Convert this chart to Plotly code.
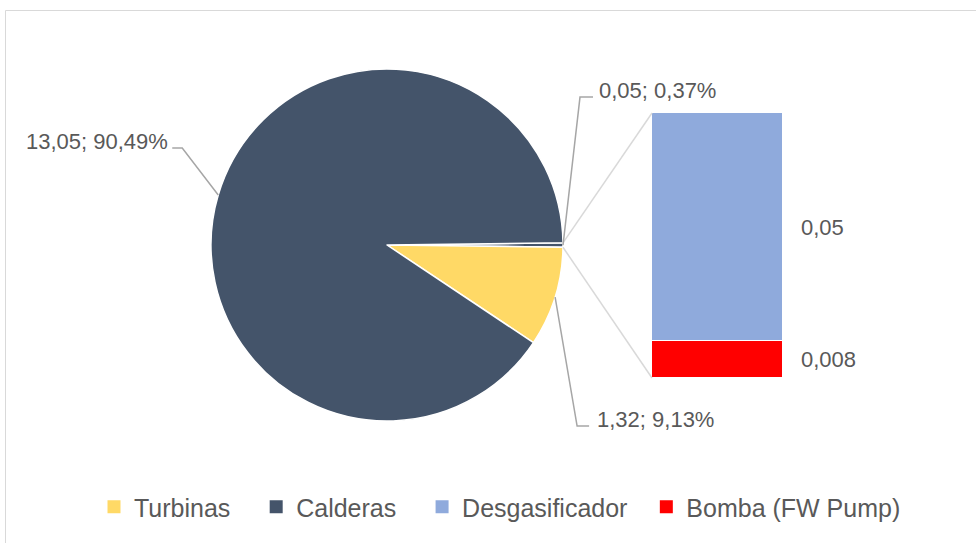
import math
import plotly.graph_objects as go

# ---------------- data ----------------
pie_labels = ["Otros", "Turbinas", "Calderas"]
pie_values = [0.058, 1.32, 13.05]
pie_colors = ["#44546A", "#FFD966", "#44546A"]
pie_text = ["0,05; 0,37%", "1,32; 9,13%", "13,05; 90,49%"]

bar_names = ["Bomba (FW Pump)", "Desgasificador"]
bar_values = [0.008, 0.05]
bar_colors = ["#FF0000", "#8FAADC"]
bar_text = ["0,008", "0,05"]

legend_names = ["Turbinas", "Calderas", "Desgasificador", "Bomba (FW Pump)"]
legend_colors = ["#FFD966", "#44546A", "#8FAADC", "#FF0000"]
legend_pad = [3, 3, 2, 0]  # trailing spacing (non-breaking spaces) between legend entries

# ---------------- layout geometry (pixels) ----------------
W, H = 976, 543
CX, CY, R = 387, 245, 176
BAR_X0, BAR_X1, BAR_Y0, BAR_Y1 = 652, 783, 113, 378
ROTATION = 89.3
FONT = "Liberation Sans"
TXT = "#595959"
LBL_SIZE = 22


def px(x, y):
    return x / W, 1 - y / H


fig = go.Figure()

fig.add_trace(go.Pie(
    labels=pie_labels, values=pie_values, sort=False, direction="clockwise",
    rotation=ROTATION, textinfo="none", showlegend=False,
    marker=dict(colors=pie_colors, line=dict(color="white", width=1.5)),
    domain=dict(x=[(CX - R) / W, (CX + R) / W], y=[1 - (CY + R) / H, 1 - (CY - R) / H]),
    hovertemplate="%{label}: %{value}<extra></extra>",
))

# legend entries
for n, c, p in zip(legend_names, legend_colors, legend_pad):
    fig.add_trace(go.Scatter(x=[None], y=[None], mode="markers", name=n + "\u00a0" * p,
                             marker=dict(symbol="square", size=13, color=c), showlegend=True))

# stacked bar (Bomba bottom, Desgasificador top)
for n, v, c in zip(bar_names, bar_values, bar_colors):
    fig.add_trace(go.Bar(x=[0], y=[v], name=n, width=1, showlegend=False,
                         marker=dict(color=c, line=dict(color="white", width=1)),
                         hovertemplate=n + ": %{y}<extra></extra>"))

# bar labels
cum = 0
for v, t in zip(bar_values, bar_text):
    fig.add_annotation(x=0.5, y=cum + v / 2, xref="x", yref="y", text=t, showarrow=False,
                       xanchor="left", yanchor="middle", xshift=16,
                       font=dict(family=FONT, size=LBL_SIZE, color=TXT))
    cum += v

# pie slice angles
total = sum(pie_values)
a = 90 - ROTATION
starts, ends = [], []
for v in pie_values:
    starts.append(a)
    a -= 360 * v / total
    ends.append(a)


def edge(ang):
    r = math.radians(ang)
    return CX + R * math.cos(r), CY - R * math.sin(r)


shapes = []
# connector lines from "other" slice to the bar
for ang, by in ((starts[0], BAR_Y0), (ends[0], BAR_Y1)):
    ex, ey = edge(ang)
    x0, y0 = px(ex, ey)
    x1, y1 = px(BAR_X0, by)
    shapes.append(dict(type="line", xref="paper", yref="paper", x0=x0, y0=y0, x1=x1, y1=y1,
                       line=dict(color="#D9D9D9", width=1.5)))

# data-label leader lines and texts (offsets relative to slice edge)
leader = {
    0: dict(elbow=(17, -148), end=(30, -148), text=(34, -155), anchor="left"),
    1: dict(elbow=(22, 129), end=(34, 129), text=(40, 122), anchor="left"),
    2: dict(elbow=(-36, -47), end=(-46, -47), text=(-48, -54), anchor="right"),
}
for i, t in enumerate(pie_text):
    mid = (starts[i] + ends[i]) / 2
    ex, ey = edge(mid)
    L = leader[i]
    pts = [(ex, ey), (ex + L["elbow"][0], ey + L["elbow"][1]), (ex + L["end"][0], ey + L["end"][1])]
    path = "M " + " L ".join(f"{px(x, y)[0]},{px(x, y)[1]}" for x, y in pts)
    shapes.append(dict(type="path", xref="paper", yref="paper", path=path,
                       line=dict(color="#A6A6A6", width=1.5)))
    tx, ty = px(ex + L["text"][0], ey + L["text"][1])
    fig.add_annotation(x=tx, y=ty, xref="paper", yref="paper", text=t, showarrow=False,
                       xanchor=L["anchor"], yanchor="middle",
                       font=dict(family=FONT, size=LBL_SIZE, color=TXT))

# chart frame
shapes.append(dict(type="rect", xref="paper", yref="paper", x0=5.5 / W, y0=-0.05, x1=1.05, y1=1 - 10.5 / H,
                   line=dict(color="#D9D9D9", width=1)))

fig.update_layout(
    width=W, height=H, margin=dict(l=0, r=0, t=0, b=0),
    paper_bgcolor="white", plot_bgcolor="white",
    barmode="stack", bargap=0,
    xaxis=dict(domain=[BAR_X0 / W, BAR_X1 / W], range=[-0.5, 0.5], visible=False, fixedrange=True),
    yaxis=dict(domain=[1 - BAR_Y1 / H, 1 - BAR_Y0 / H], range=[0, sum(bar_values)], visible=False, fixedrange=True),
    shapes=shapes,
    showlegend=True,
    legend=dict(orientation="h", x=0.5 + 12 / W, xanchor="center", y=1 - 507 / H, yanchor="middle",
                traceorder="normal", font=dict(family=FONT, size=25, color=TXT),
                itemclick=False, itemdoubleclick=False),
    font=dict(family=FONT),
)

fig.write_html("out.html")
